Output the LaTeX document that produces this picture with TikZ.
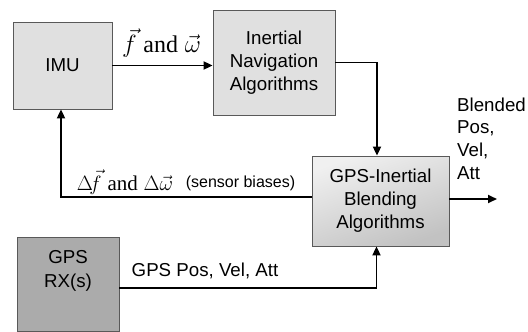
\documentclass[tikz,border=0pt]{standalone}
\usepackage{fontspec}
\setmainfont{Liberation Sans}
\newfontfamily\serifnf{Liberation Serif}
\usetikzlibrary{arrows.meta,calc}
\tikzset{
  blk/.style={draw=black!65, line width=0.8pt, inner sep=0pt, align=center,
    font=\fontsize{18.7}{23}\selectfont},
  lightblk/.style={blk, fill=black!12},
  darkblk/.style={blk, fill=black!33},
  gradblk/.style={blk, top color=black!6, bottom color=black!24, shading angle=20},
  lbl/.style={inner sep=0pt, font=\fontsize{18.7}{23}\selectfont},
  mathlbl/.style={inner sep=0pt, font=\fontsize{21}{24}\selectfont},
  arr/.style={line width=1.8pt, -{Triangle[length=9pt,width=8pt]}},
  ln/.style={line width=1.8pt}
}
\begin{document}
\begin{tikzpicture}[x=1pt,y=-1pt]
\useasboundingbox (0,0) rectangle (528,332);
\fill[white] (0,0) rectangle (528,332);
% blocks
\node[lightblk, minimum width=99pt, minimum height=87pt] (imu) at (62.5,65.5) {IMU};
\node[lightblk, minimum width=122pt, minimum height=105pt] (ina) at (274,62.5) {Inertial\\Navigation\\Algorithms};
\node[gradblk, minimum width=137pt, minimum height=90pt] (gib) at (380.5,201) {GPS-Inertial\\Blending\\Algorithms};
\node[darkblk, minimum width=102pt, minimum height=94pt] (gps) at (68,284) {};
\node[lbl, align=center, font=\fontsize{18.7}{24}\selectfont] (gpstxt) at (68,271) {GPS\\RX(s)};
% connectors
\draw[arr] (imu.east) -- (ina.west |- imu.east);
\node[mathlbl, font=\fontsize{24}{26}\selectfont] (flbl) at (161.5,43) {$\vec{f}$ {\serifnf and} $\vec{\omega}$};
\draw[arr] (ina.east) -| ([xshift=-3.5pt]gib.north);
\coordinate (outend) at (497,199);
\draw[arr] ([yshift=2pt]gib.east) -- (outend);
\node[lbl, align=left, anchor=north west, font=\fontsize{18.7}{22.7}\selectfont] (blend) at (457,97.5) {Blended\\Pos,\\Vel,\\Att};
\draw[arr] ([yshift=4pt]gib.west) -| ([xshift=-1.5pt]imu.south);
\node[mathlbl] (dlbl) at (125,182) {$\Delta\!\vec{f}$ {\serifnf and} $\Delta\vec{\omega}$};
\node[lbl, font=\fontsize{16}{20}\selectfont] (sb) at (240.5,183) {(sensor biases)};
\draw[arr] ([yshift=-4pt]gps.east) -| ([xshift=-4pt]gib.south);
\node[lbl] (gpslbl) at (205,271) {GPS Pos, Vel, Att};
\end{tikzpicture}
\end{document}
